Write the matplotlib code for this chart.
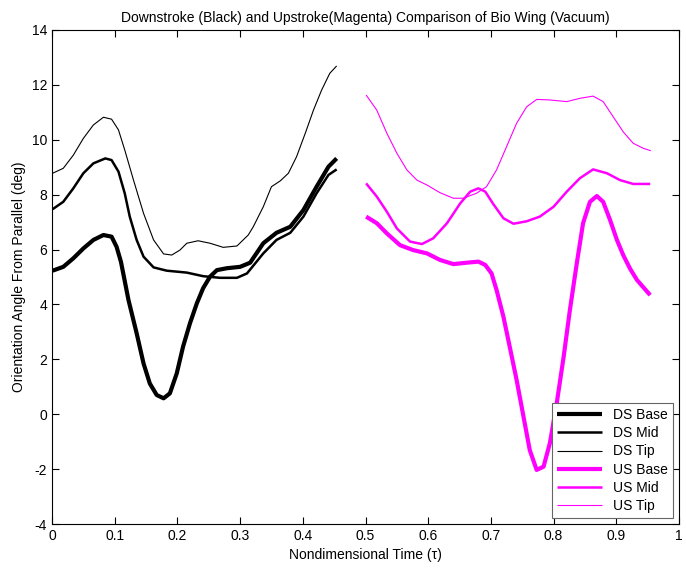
import matplotlib
matplotlib.use("Agg")
import matplotlib.pyplot as plt

plt.rcParams['font.family'] = ['Liberation Sans', 'DejaVu Sans']
plt.rcParams['axes.unicode_minus'] = False
plt.rcParams['lines.solid_joinstyle'] = 'round'
plt.rcParams['lines.solid_capstyle'] = 'butt'

# downstroke (black), values
ds_base_x = [0.001, 0.018, 0.034, 0.050, 0.066, 0.082, 0.095, 0.103, 0.110, 0.122, 0.135, 0.146,
             0.156, 0.167, 0.178, 0.188, 0.199, 0.209, 0.220, 0.231, 0.241, 0.252, 0.263, 0.279,
             0.300, 0.316, 0.337, 0.358, 0.380, 0.401, 0.422, 0.441, 0.454]
ds_base_y = [5.23, 5.37, 5.68, 6.04, 6.35, 6.53, 6.47, 6.10, 5.55, 4.16, 2.95, 1.85,
             1.12, 0.70, 0.58, 0.76, 1.49, 2.46, 3.31, 4.04, 4.59, 5.01, 5.25, 5.32,
             5.37, 5.52, 6.23, 6.61, 6.83, 7.44, 8.29, 9.02, 9.32]
ds_mid_x = [0.001, 0.018, 0.034, 0.050, 0.066, 0.085, 0.095, 0.106, 0.116, 0.124, 0.135, 0.146,
            0.162, 0.183, 0.215, 0.241, 0.268, 0.295, 0.311, 0.337, 0.358, 0.380, 0.401, 0.422,
            0.441, 0.454]
ds_mid_y = [7.47, 7.74, 8.23, 8.78, 9.14, 9.32, 9.26, 8.84, 8.05, 7.20, 6.35, 5.74,
            5.35, 5.23, 5.16, 5.03, 4.97, 4.97, 5.13, 5.86, 6.35, 6.61, 7.20, 8.05,
            8.72, 8.92]
ds_tip_x = [0.001, 0.018, 0.034, 0.050, 0.066, 0.082, 0.095, 0.106, 0.116, 0.130, 0.146, 0.162,
            0.178, 0.191, 0.204, 0.215, 0.233, 0.252, 0.273, 0.295, 0.313, 0.321, 0.337, 0.350,
            0.364, 0.377, 0.390, 0.404, 0.417, 0.430, 0.443, 0.454]
ds_tip_y = [8.78, 8.96, 9.44, 10.05, 10.54, 10.82, 10.75, 10.36, 9.63, 8.53, 7.32, 6.35,
            5.84, 5.80, 5.98, 6.23, 6.32, 6.23, 6.08, 6.13, 6.53, 6.83, 7.56, 8.29,
            8.50, 8.78, 9.38, 10.24, 11.08, 11.81, 12.42, 12.69]

# upstroke (magenta)
us_base_x = [0.501, 0.518, 0.534, 0.555, 0.576, 0.598, 0.619, 0.640, 0.661, 0.680, 0.691, 0.701,
             0.709, 0.720, 0.730, 0.741, 0.752, 0.762, 0.773, 0.784, 0.794, 0.805, 0.816, 0.826,
             0.837, 0.847, 0.858, 0.869, 0.879, 0.890, 0.901, 0.911, 0.922, 0.933, 0.954]
us_base_y = [7.20, 6.96, 6.59, 6.16, 5.98, 5.86, 5.62, 5.47, 5.52, 5.56, 5.44, 5.13,
             4.53, 3.55, 2.46, 1.25, -0.09, -1.31, -2.03, -1.91, -1.06, 0.40, 2.09, 3.80,
             5.50, 6.96, 7.74, 7.95, 7.74, 7.08, 6.35, 5.80, 5.30, 4.89, 4.34]
us_mid_x = [0.501, 0.518, 0.534, 0.550, 0.571, 0.590, 0.608, 0.630, 0.651, 0.667, 0.680, 0.691,
            0.704, 0.720, 0.736, 0.757, 0.778, 0.800, 0.821, 0.842, 0.863, 0.885, 0.906, 0.927,
            0.954]
us_mid_y = [8.41, 7.93, 7.38, 6.77, 6.29, 6.20, 6.41, 6.96, 7.68, 8.11, 8.23, 8.11,
            7.65, 7.14, 6.94, 7.03, 7.20, 7.56, 8.11, 8.60, 8.92, 8.78, 8.53, 8.39,
            8.39]
us_tip_x = [0.501, 0.518, 0.534, 0.550, 0.566, 0.582, 0.598, 0.619, 0.640, 0.656, 0.677, 0.693,
            0.709, 0.725, 0.741, 0.757, 0.773, 0.794, 0.821, 0.842, 0.863, 0.879, 0.895, 0.911,
            0.927, 0.943, 0.955]
us_tip_y = [11.63, 11.08, 10.24, 9.51, 8.90, 8.53, 8.35, 8.07, 7.87, 7.87, 8.05, 8.29,
            8.90, 9.75, 10.60, 11.20, 11.47, 11.45, 11.39, 11.51, 11.59, 11.39, 10.84, 10.29,
            9.87, 9.69, 9.60]

magenta = (1, 0, 1)

fig = plt.figure(figsize=(6.86, 5.71), dpi=100)
ax = fig.add_axes([0.0758, 0.0823, 0.914, 0.8652])

ax.plot(ds_base_x, ds_base_y, color='k', lw=3.0, label='DS Base')
ax.plot(ds_mid_x, ds_mid_y, color='k', lw=1.8, label='DS Mid')
ax.plot(ds_tip_x, ds_tip_y, color='k', lw=0.8, label='DS Tip')
ax.plot(us_base_x, us_base_y, color=magenta, lw=3.0, label='US Base')
ax.plot(us_mid_x, us_mid_y, color=magenta, lw=1.8, label='US Mid')
ax.plot(us_tip_x, us_tip_y, color=magenta, lw=0.8, label='US Tip')

ax.set_xlim(0, 1)
ax.set_ylim(-4, 14)
ax.set_xticks([0, 0.1, 0.2, 0.3, 0.4, 0.5, 0.6, 0.7, 0.8, 0.9, 1])
ax.set_xticklabels(['0', '0.1', '0.2', '0.3', '0.4', '0.5', '0.6', '0.7', '0.8', '0.9', '1'])
ax.set_yticks(range(-4, 15, 2))
ax.tick_params(direction='in', top=True, right=True, labelsize=10, length=5)
ax.set_xlabel('Nondimensional Time (\u03c4)', fontsize=10)
ax.set_ylabel('Orientation Angle From Parallel (deg)', fontsize=10)
ax.set_title('Downstroke (Black) and Upstroke(Magenta) Comparison of Bio Wing (Vacuum)', fontsize=10)

leg = ax.legend(loc='lower right', fontsize=10, fancybox=False, framealpha=1,
                edgecolor='0.4', borderaxespad=0.4, handlelength=3.2, labelspacing=0.3)
leg.get_frame().set_linewidth(0.8)

fig.savefig('out.png', dpi=100)
